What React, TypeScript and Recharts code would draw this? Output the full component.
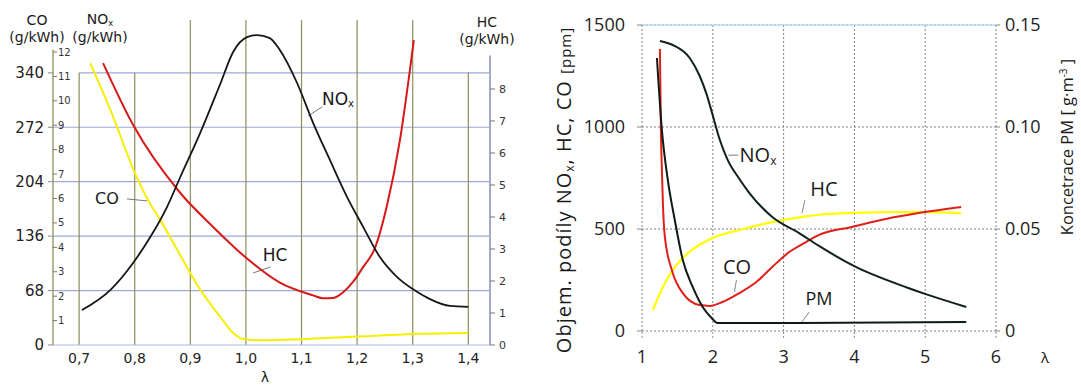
import React from 'react';
import { LineChart, Line, XAxis, YAxis, ReferenceLine, CartesianGrid } from 'recharts';

// ---------- Left chart (spark-ignition engine, g/kWh vs λ) ----------
const L_X_TICKS = [0.7, 0.8, 0.9, 1.0, 1.1, 1.2, 1.3, 1.4];
const L_CO_TICKS = [0, 68, 136, 204, 272, 340];
const L_NOX_TICKS = [1, 2, 3, 4, 5, 6, 7, 8, 9, 10, 11, 12];
const L_HC_TICKS = [0, 1, 2, 3, 4, 5, 6, 7, 8];
const L_SHORT_GRID = [0.7, 0.8, 1.4];

const L_CO_LAMBDA = [0.72, 0.756, 0.804, 0.824, 0.846, 0.882, 0.918, 0.954, 0.977, 0.995, 1.02, 1.182, 1.313, 1.4];
const L_CO_VALUES = [352, 294, 209, 181, 156, 112, 69, 35, 15, 7.5, 6, 10, 14, 15];

const L_HC_LAMBDA = [0.743, 0.797, 0.882, 0.941, 1.002, 1.061, 1.121, 1.139, 1.157, 1.175, 1.193, 1.211, 1.232, 1.254, 1.277, 1.295, 1.302];
const L_HC_VALUES = [8.81, 6.88, 4.75, 3.69, 2.7, 1.95, 1.55, 1.46, 1.47, 1.65, 1.98, 2.44, 3.03, 4.38, 6.4, 8.6, 9.53];

const L_NOX_LAMBDA = [0.705, 0.756, 0.797, 0.828, 0.858, 0.882, 0.918, 0.954, 0.977, 1.002, 1.02, 1.043, 1.061, 1.092, 1.121, 1.151, 1.182, 1.211, 1.241, 1.272, 1.3, 1.331, 1.367, 1.4];
const L_NOX_VALUES = [1.43, 2.25, 3.36, 4.42, 5.65, 6.88, 8.7, 10.7, 12.0, 12.61, 12.69, 12.57, 12.08, 10.73, 9.09, 7.58, 6.06, 4.83, 3.6, 2.78, 2.29, 1.88, 1.6, 1.56];

// ---------- Right chart (diesel engine, ppm vs λ) ----------
const R_X_TICKS = [1, 2, 3, 4, 5, 6];
const R_PPM_TICKS = [0, 500, 1000, 1500];
const R_PM_TICKS = [0, 0.05, 0.1, 0.15];

const R_NOX_LAMBDA = [1.253, 1.435, 1.674, 1.815, 1.913, 1.997, 2.096, 2.208, 2.376, 2.517, 2.84, 3.22, 3.5, 4.02, 4.76, 5.04, 5.58];
const R_NOX_VALUES = [1422, 1402, 1338, 1250, 1160, 1060, 940, 840, 745, 676, 559, 480, 417, 314, 211, 177, 118];

const R_CO_LAMBDA = [1.253, 1.267, 1.281, 1.295, 1.323, 1.421, 1.576, 1.815, 1.955, 2.138, 2.376, 2.615, 2.84, 3.079, 3.317, 3.5, 3.963, 4.441, 4.904, 5.508];
const R_CO_VALUES = [1382, 985, 789, 627, 461, 299, 186, 127, 123, 142, 186, 240, 314, 387, 436, 471, 510, 549, 578, 608];

const R_HC_LAMBDA = [1.154, 1.295, 1.435, 1.576, 1.716, 1.857, 1.997, 2.376, 2.84, 3.317, 3.5, 4.0, 4.441, 5.0, 5.508];
const R_HC_VALUES = [103, 216, 299, 358, 400, 431, 456, 495, 534, 562, 570, 579, 583, 583, 578];

const R_PM_LAMBDA = [1.211, 1.281, 1.365, 1.463, 1.576, 1.716, 1.857, 1.983, 2.067, 3.22, 5.58];
const R_PM_VALUES = [0.1338, 0.0985, 0.074, 0.0544, 0.0348, 0.0216, 0.0118, 0.0064, 0.0039, 0.0039, 0.0044];

const pts = (xs: number[], ys: number[]) => xs.map((x, i) => ({ x, y: ys[i] }));

const L_XMIN = 0.653;
const L_XMAX = 1.439;
const L_CO_MAX = 406;
const L_NOX_MAX = 13.31;
const L_HC_MAX = 10.156;

const FL = '"DejaVu Sans", Verdana, sans-serif';
const FR = '"Open Sans", "DejaVu Sans", sans-serif';

const abs = (x: number, y: number, extra: React.CSSProperties = {}): React.CSSProperties => ({
  position: 'absolute',
  left: x,
  top: y,
  transform: 'translate(-50%, -50%)',
  whiteSpace: 'nowrap',
  lineHeight: 1,
  color: '#1a1a1a',
  ...extra,
});

const Sub = ({ children }: { children: React.ReactNode }) => (
  <span style={{ fontSize: '0.6em', verticalAlign: '-0.2em' }}>{children}</span>
);

function LeftChart() {
  const tickL = { fontFamily: FL, fontSize: 14, fill: '#222' };
  return (
    <LineChart width={530} height={385} margin={{ top: 20, right: 0, bottom: 10, left: 0 }}>
      {L_CO_TICKS.filter((v) => v > 0).map((v) => (
        <ReferenceLine
          key={`h${v}`}
          yAxisId="co"
          segment={[{ x: v === 340 ? 0.7 : L_XMIN, y: v }, { x: L_XMAX, y: v }]}
          stroke="#9ea8d8"
          strokeWidth={1.2}
        />
      ))}
      {L_X_TICKS.map((v) => (
        <ReferenceLine
          key={v}
          yAxisId="co"
          segment={[{ x: v, y: 0 }, { x: v, y: L_SHORT_GRID.includes(v) ? 340 : L_CO_MAX }]}
          stroke="#8e8e5a"
          strokeWidth={1.2}
        />
      ))}
      <XAxis
        dataKey="x"
        type="number"
        domain={[L_XMIN, L_XMAX]}
        allowDataOverflow
        ticks={L_X_TICKS}
        tickFormatter={(v: number) => v.toFixed(1).replace('.', ',')}
        tick={tickL}
        tickLine={false}
        tickSize={0}
        tickMargin={8}
        height={30}
        stroke="#a9b6e6"
      />
      <YAxis
        yAxisId="co"
        orientation="left"
        width={53}
        type="number"
        domain={[0, L_CO_MAX]}
        ticks={L_CO_TICKS}
        axisLine={false}
        tickLine={{ stroke: '#888' }}
        tickSize={5}
        tickMargin={4}
        tick={{ fontFamily: FL, fontSize: 15, fill: '#222' }}
        interval={0}
      />
      <YAxis
        yAxisId="nox"
        orientation="left"
        mirror
        type="number"
        domain={[0, L_NOX_MAX]}
        ticks={L_NOX_TICKS}
        axisLine={false}
        tickLine={{ stroke: '#777' }}
        tickSize={4}
        tickMargin={1}
        tick={{ fontFamily: FL, fontSize: 10, fill: '#333' }}
        interval={0}
      />
      <YAxis
        yAxisId="hc"
        orientation="right"
        width={40}
        type="number"
        domain={[0, L_HC_MAX]}
        ticks={L_HC_TICKS}
        axisLine={false}
        tickLine={{ stroke: '#777' }}
        tickSize={5}
        tickMargin={4}
        tick={{ fontFamily: FL, fontSize: 11, fill: '#333' }}
        interval={0}
      />
      <ReferenceLine yAxisId="nox" segment={[{ x: L_XMIN, y: 0 }, { x: L_XMIN, y: 12.1 }]} stroke="#9c9c70" strokeWidth={1.5} />
      <ReferenceLine yAxisId="hc" segment={[{ x: L_XMAX, y: 0 }, { x: L_XMAX, y: 9.05 }]} stroke="#a4a8cc" strokeWidth={2} />
      {/* annotation leaders */}
      <ReferenceLine yAxisId="co" segment={[{ x: 0.786, y: 182.5 }, { x: 0.822, y: 180 }]} stroke="#777" />
      <ReferenceLine yAxisId="co" segment={[{ x: 1.044, y: 97.5 }, { x: 1.013, y: 90 }]} stroke="#777" />
      <ReferenceLine yAxisId="co" segment={[{ x: 1.137, y: 297.5 }, { x: 1.112, y: 286 }]} stroke="#777" />
      <Line data={pts(L_CO_LAMBDA, L_CO_VALUES)} dataKey="y" yAxisId="co" type="monotone" stroke="#f6ee00" strokeWidth={2} dot={false} isAnimationActive={false} />
      <Line data={pts(L_HC_LAMBDA, L_HC_VALUES)} dataKey="y" yAxisId="hc" type="monotone" stroke="#d61818" strokeWidth={2} dot={false} isAnimationActive={false} />
      <Line data={pts(L_NOX_LAMBDA, L_NOX_VALUES)} dataKey="y" yAxisId="nox" type="monotone" stroke="#161616" strokeWidth={1.8} dot={false} isAnimationActive={false} />
    </LineChart>
  );
}

function RightChart() {
  const tickR = { fontFamily: FR, fontSize: 18, fill: '#222' };
  return (
    <LineChart width={521} height={385} margin={{ top: 25, right: 0, bottom: 24, left: 0 }}>
      <CartesianGrid yAxisId="ppm" stroke="#808080" strokeDasharray="2 2" />
      <ReferenceLine yAxisId="ppm" y={1500} stroke="#bcdcf0" strokeWidth={1.5} />
      <XAxis
        dataKey="x"
        type="number"
        domain={[1, 6]}
        allowDataOverflow
        ticks={R_X_TICKS}
        tick={tickR}
        tickLine={{ stroke: '#888', strokeDasharray: '2 2' }}
        tickSize={7}
        tickMargin={12}
        axisLine={false}
        height={30}
      />
      <YAxis
        yAxisId="ppm"
        orientation="left"
        width={82}
        type="number"
        domain={[0, 1500]}
        ticks={R_PPM_TICKS}
        axisLine={false}
        tickLine={{ stroke: '#888' }}
        tickSize={5}
        tickMargin={12}
        tick={tickR}
        interval={0}
      />
      <YAxis
        yAxisId="pm"
        orientation="right"
        width={85}
        type="number"
        domain={[0, 0.15]}
        ticks={R_PM_TICKS}
        tickFormatter={(v: number) => (v === 0 ? '0' : v.toFixed(2))}
        axisLine={false}
        tickLine={{ stroke: '#888' }}
        tickSize={4}
        tickMargin={5}
        tick={tickR}
        interval={0}
      />
      {/* annotation leaders */}
      <ReferenceLine yAxisId="ppm" segment={[{ x: 2.22, y: 862 }, { x: 2.36, y: 862 }]} stroke="#777" />
      <ReferenceLine yAxisId="ppm" segment={[{ x: 3.26, y: 577 }, { x: 3.3, y: 641 }]} stroke="#888" />
      <ReferenceLine yAxisId="ppm" segment={[{ x: 2.306, y: 191 }, { x: 2.334, y: 250 }]} stroke="#888" />
      <ReferenceLine yAxisId="ppm" segment={[{ x: 3.26, y: 44 }, { x: 3.36, y: 93 }]} stroke="#888" />
      <Line data={pts(R_HC_LAMBDA, R_HC_VALUES)} dataKey="y" yAxisId="ppm" type="monotone" stroke="#ffff00" strokeWidth={2.2} dot={false} isAnimationActive={false} />
      <Line data={pts(R_CO_LAMBDA, R_CO_VALUES)} dataKey="y" yAxisId="ppm" type="monotone" stroke="#e01e1a" strokeWidth={2} dot={false} isAnimationActive={false} />
      <Line data={pts(R_NOX_LAMBDA, R_NOX_VALUES)} dataKey="y" yAxisId="ppm" type="monotone" stroke="#0f2218" strokeWidth={2} dot={false} isAnimationActive={false} />
      <Line data={pts(R_PM_LAMBDA, R_PM_VALUES)} dataKey="y" yAxisId="pm" type="monotone" stroke="#0f1a14" strokeWidth={2} dot={false} isAnimationActive={false} />
    </LineChart>
  );
}

export default function App() {
  return (
    <div style={{ position: 'absolute', left: 0, top: 0, width: 1081, height: 385, background: '#fff', overflow: 'hidden' }}>
      <div style={{ position: 'absolute', left: 0, top: 0 }}>
        <LeftChart />
      </div>
      <div style={{ position: 'absolute', left: 560, top: 0 }}>
        <RightChart />
      </div>

      {/* left chart texts */}
      <div style={abs(37, 20, { fontFamily: FL, fontSize: 14 })}>CO</div>
      <div style={abs(37, 37, { fontFamily: FL, fontSize: 14 })}>(g/kWh)</div>
      <div style={abs(100, 20, { fontFamily: FL, fontSize: 14 })}>NO<Sub>x</Sub></div>
      <div style={abs(100, 37, { fontFamily: FL, fontSize: 14 })}>(g/kWh)</div>
      <div style={abs(487, 22, { fontFamily: FL, fontSize: 14 })}>HC</div>
      <div style={abs(487, 39, { fontFamily: FL, fontSize: 14 })}>(g/kWh)</div>
      <div style={abs(265, 377, { fontFamily: FL, fontSize: 14 })}>λ</div>
      <div style={abs(107, 199, { fontFamily: FL, fontSize: 16 })}>CO</div>
      <div style={abs(275, 255, { fontFamily: FL, fontSize: 17 })}>HC</div>
      <div style={abs(338, 100, { fontFamily: FL, fontSize: 17 })}>NO<Sub>x</Sub></div>

      {/* right chart texts */}
      <div style={abs(565, 190, { fontFamily: FR, fontSize: 20, letterSpacing: 1, transform: 'translate(-50%, -50%) rotate(-90deg)' })}>
        Objem. podíly NO<Sub>x</Sub>, HC, CO <span style={{ fontSize: 15 }}>[ppm]</span>
      </div>
      <div style={abs(1067, 147, { fontFamily: FR, fontSize: 16.5, transform: 'translate(-50%, -50%) rotate(-90deg)' })}>
        Koncetrace PM [ g·m<sup style={{ fontSize: '0.6em' }}>-3</sup> ]
      </div>
      <div style={abs(1045, 357, { fontFamily: FR, fontSize: 15 })}>λ</div>
      <div style={abs(758, 156, { fontFamily: FR, fontSize: 20 })}>NO<Sub>x</Sub></div>
      <div style={abs(824, 189, { fontFamily: FR, fontSize: 20 })}>HC</div>
      <div style={abs(737, 267, { fontFamily: FR, fontSize: 20 })}>CO</div>
      <div style={abs(819, 298, { fontFamily: FR, fontSize: 18 })}>PM</div>
    </div>
  );
}
